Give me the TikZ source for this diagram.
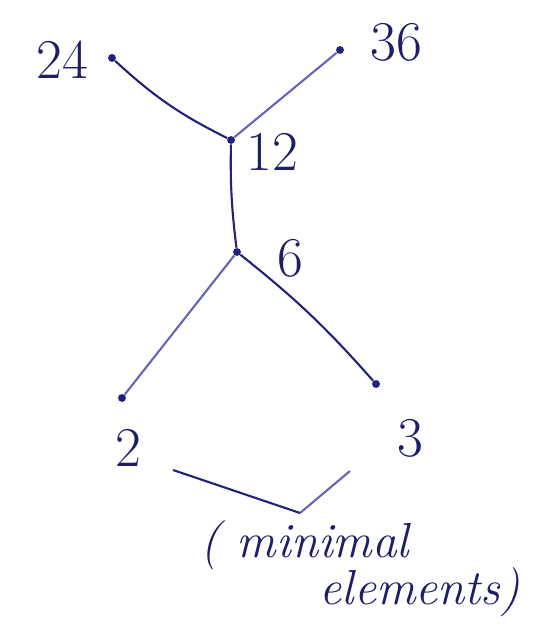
\documentclass[tikz,border=0pt]{standalone}
\usepackage{tikz}
\usetikzlibrary{positioning}
\definecolor{Ink}{HTML}{22227A}
\definecolor{InkLight}{HTML}{6464B8}
\tikzset{pt/.style={circle,fill=Ink,inner sep=0pt,minimum size=4.5pt},
  edge/.style={line width=1.2pt},
  lbl/.style={text=Ink!85!black,font=\fontsize{32}{36}\selectfont},
  note/.style={text=Ink!85!black,font=\fontsize{28}{32}\selectfont\itshape}}

\begin{document}
\begin{tikzpicture}[x=0.02cm,y=-0.02cm]
\useasboundingbox (0,0) rectangle (538,624);
\node[pt] (n24) at (112,58) {};
\node[pt] (n36) at (340,50) {};
\node[pt] (n12) at (231,140) {};
\node[pt] (n6) at (237,252) {};
\node[pt] (n2) at (122,398) {};
\node[pt] (n3) at (376,384) {};
\draw[edge,Ink] (n24) to[bend right=8] (n12);
\draw[edge,InkLight] (n36) -- (n12);
\draw[edge,Ink] (n12) to[bend right=4] (n6);
\draw[edge,InkLight] (n6) -- (n2);
\draw[edge,Ink] (n6) to[bend left=5] (n3);
\node[lbl] (l24) at (62,60) {24};
\node[lbl] (l36) at (396,42) {36};
\node[lbl] (l12) at (272,152) {12};
\node[lbl] (l6) at (290,258) {6};
\node[lbl] (l2) at (128,448) {2};
\node[lbl] (l3) at (410,438) {3};
% bracket under the minimal elements
\coordinate (b1) at (173,470);
\coordinate (b2) at (300,513);
\coordinate (b3) at (350,471);
\draw[edge,Ink] (b1) -- (b2);
\draw[edge,InkLight] (b2) -- (b3);
\node[note] (m1) at (305,545) {(\,\,minimal};
\node[note] (m2) at (420,592) {elements)};
\end{tikzpicture}
\end{document}
